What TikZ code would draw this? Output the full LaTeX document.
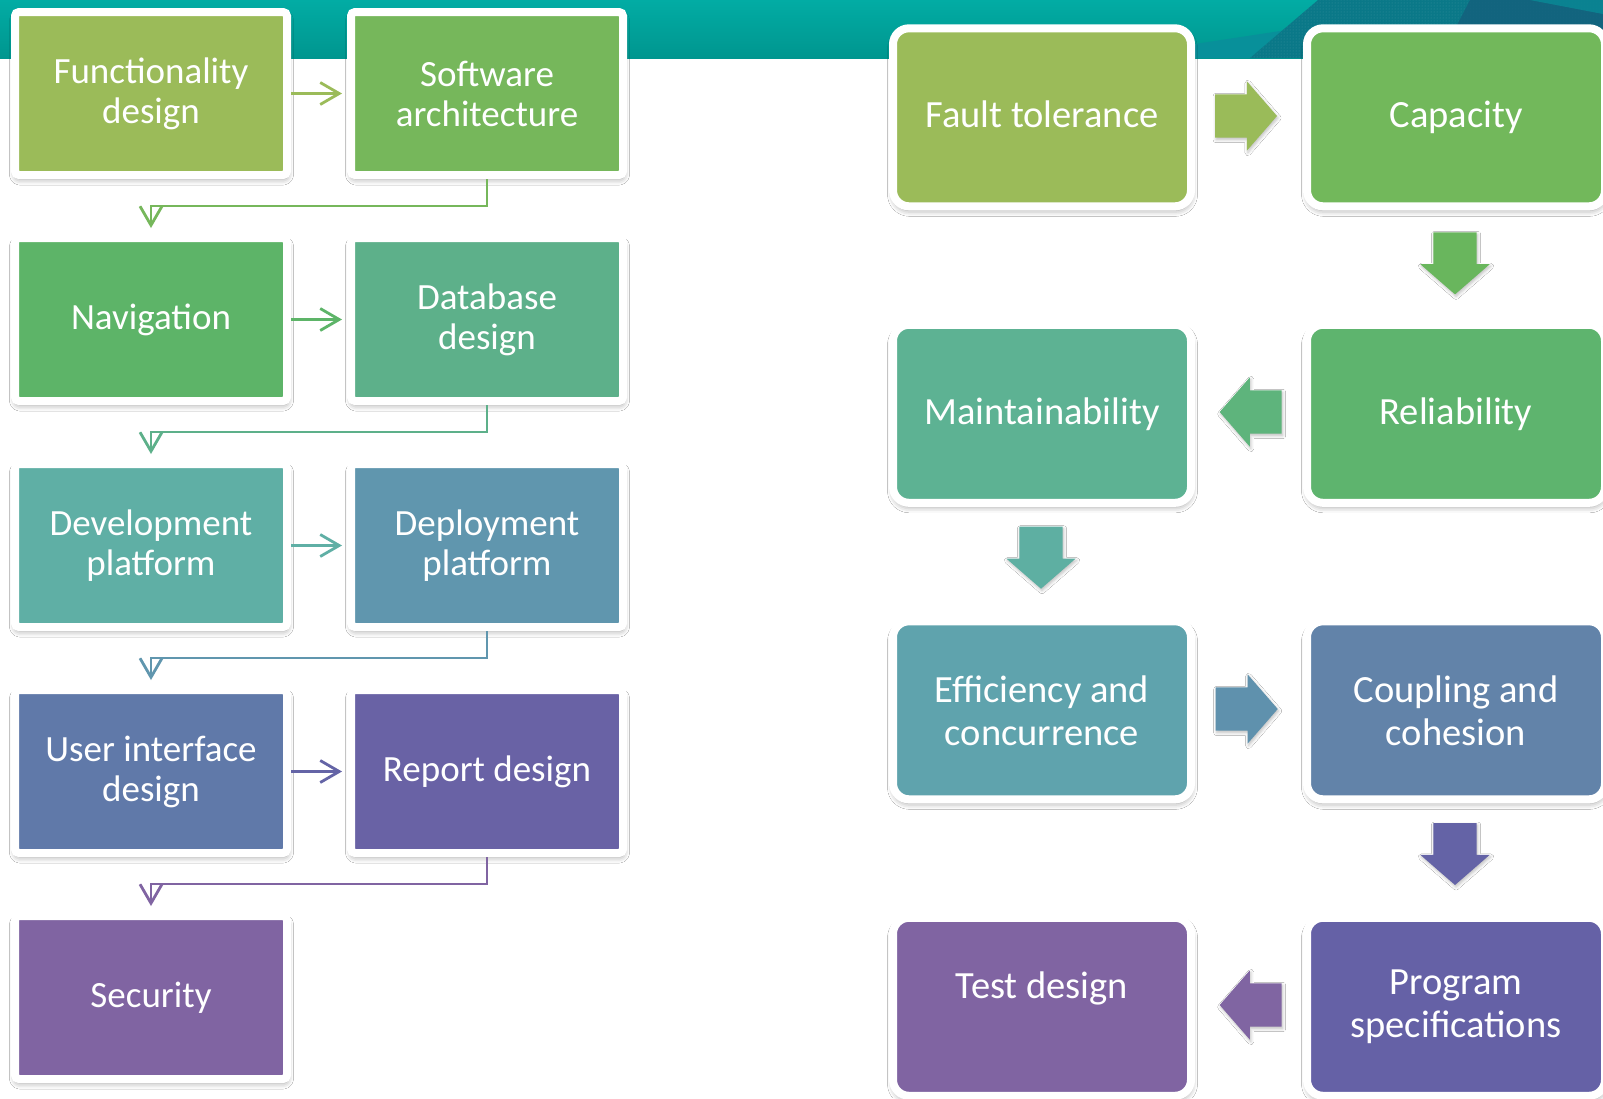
\documentclass[tikz,border=0pt]{standalone}
\usepackage{fontspec}
\setmainfont{Carlito}
\usetikzlibrary{arrows.meta,shapes.arrows,shadows.blur,calc,patterns}
\definecolor{cFunc}{HTML}{9BBB59}
\definecolor{cSA}{HTML}{76B75B}
\definecolor{cNav}{HTML}{5DB468}
\definecolor{cDB}{HTML}{5DB08A}
\definecolor{cDev}{HTML}{5FAFA5}
\definecolor{cDep}{HTML}{6096AE}
\definecolor{cUI}{HTML}{6079A9}
\definecolor{cRep}{HTML}{6962A5}
\definecolor{cSec}{HTML}{8064A2}
\definecolor{cFT}{HTML}{9BBB59}
\definecolor{cCap}{HTML}{72B85B}
\definecolor{cRel}{HTML}{5EB46E}
\definecolor{cMain}{HTML}{5DB293}
\definecolor{cEff}{HTML}{5FA3AD}
\definecolor{cCoup}{HTML}{6283A9}
\definecolor{cProg}{HTML}{6561A6}
\definecolor{cTest}{HTML}{8064A2}
\definecolor{aA}{HTML}{9ABB59}
\definecolor{aB}{HTML}{69B65D}
\definecolor{aC}{HTML}{5EB47C}
\definecolor{aD}{HTML}{5EAFA2}
\definecolor{aE}{HTML}{5F91AD}
\definecolor{aF}{HTML}{6463A6}
\definecolor{aG}{HTML}{8065A2}
\definecolor{hRow}{HTML}{6464A6}
\definecolor{bTop}{HTML}{02ACA4}
\definecolor{bBot}{HTML}{00968F}
\definecolor{bMid}{HTML}{08909A}
\definecolor{bDark}{HTML}{0A7888}
\definecolor{bDeep}{HTML}{145F7C}
\tikzset{
  lbox/.style={draw=white, line width=8pt, rounded corners=4pt,
    minimum width=272pt, minimum height=163pt, inner sep=0pt,
    text=white, align=center, font=\fontsize{37}{40}\selectfont,
    blur shadow={shadow xshift=0.5pt, shadow yshift=-4pt,
      shadow blur radius=6pt, shadow opacity=40}},
  rbox/.style={lbox, rounded corners=16pt, minimum width=298pt,
    minimum height=178pt, font=\fontsize{38.5}{43}\selectfont},
  conn/.style={line width=2.8pt,
    -{Straight Barb[length=19pt,width=22pt,line width=2.8pt]}},
  barrow/.style={single arrow, draw=none, minimum height=62pt,
    single arrow head extend=13pt, anchor=tip,
    single arrow tip angle=98, inner xsep=0pt, inner ysep=21.5pt,
    outer sep=0pt,
    blur shadow={shadow xshift=1pt, shadow yshift=-2pt,
      shadow blur radius=3pt, shadow opacity=25}},
}
\begin{document}
\begin{tikzpicture}[x=1pt,y=-1pt]
\useasboundingbox (0,0) rectangle (1603,1098);
\clip (0,0) rectangle (1603,1098);
\fill[white] (0,0) rectangle (1603,1098);
% banner
\fill[top color=bTop, bottom color=bBot] (0,0) rectangle (1603,58);
\fill[bMid] (1190,58) -- (1195,44) -- (1300,28) -- (1460,0) -- (1603,0) -- (1603,58) -- cycle;
\fill[bDark] (1250,58) -- (1318,0) -- (1603,0) -- (1603,58) -- cycle;
\fill[pattern=dots, pattern color=white, opacity=0.18] (1250,58) -- (1318,0) -- (1603,0) -- (1603,58) -- cycle;
\fill[bDeep, opacity=0.8] (1440,58) -- (1470,0) -- (1603,0) -- (1603,58) -- cycle;
\fill[bMid, opacity=0.7] (1530,0) -- (1603,0) -- (1603,14) -- cycle;

% left column
\node[lbox, fill=cFunc] (fd)  at (151,93.5)  {Functionality\\design};
\node[lbox, fill=cSA]   (sa)  at (487,93.5)  {Software\\architecture};
\node[lbox, fill=cNav]  (nav) at (151,319.5) {Navigation};
\node[lbox, fill=cDB]   (db)  at (487,319.5) {Database\\design};
\node[lbox, fill=cDev]  (dev) at (151,545.5) {Development\\platform};
\node[lbox, fill=cDep]  (dep) at (487,545.5) {Deployment\\platform};
\node[lbox, fill=cUI]   (ui)  at (151,771.5) {User interface\\design};
\node[lbox, fill=cRep]  (rep) at (487,771.5) {Report design};
\node[lbox, fill=cSec]  (sec) at (151,997.5) {Security};

\draw[conn, cFunc, shorten >=5pt] (fd) -- (sa);
\draw[conn, cNav,  shorten >=5pt] (nav) -- (db);
\draw[conn, cDev,  shorten >=5pt] (dev) -- (dep);
\draw[conn, hRow,  shorten >=5pt] (ui) -- (rep);
\draw[conn, cSA,  shorten >=6pt] (sa.south)  -- ++(0,27) -| (nav.north);
\draw[conn, cDB,  shorten >=6pt] (db.south)  -- ++(0,27) -| (dev.north);
\draw[conn, cDep, shorten >=6pt] (dep.south) -- ++(0,27) -| (ui.north);
\draw[conn, cSec, shorten >=6pt] (rep.south) -- ++(0,27) -| (sec.north);

% right column
\node[rbox, fill=cFT]   (ft)  at (1042,117.3)  {Fault tolerance\vphantom{y}};
\node[rbox, fill=cCap]  (cap) at (1456,117.3)  {Capacity};
\node[rbox, fill=cMain] (mai) at (1042,413.8)  {Maintainability};
\node[rbox, fill=cRel]  (rel) at (1456,413.8)  {Reliability};
\node[rbox, fill=cEff]  (eff) at (1042,710.3)  {Efficiency and\\concurrence};
\node[rbox, fill=cCoup] (cou) at (1456,710.3)  {Coupling and\\cohesion};
\node[rbox, fill=cTest] (tes) at (1042,1006.8) {Test design\\\mbox{}};
\node[rbox, fill=cProg] (pro) at (1456,1006.8) {Program\\specifications};

\node[barrow, fill=aA] (a1) at ($(cap.west)+(-26,-1.3)$) {};
\node[barrow, fill=aB, rotate=-90] (a2) at ($(rel.north)+(-1,-26.4)$) {};
\node[barrow, fill=aC, rotate=180] (a3) at ($(mai.east)+(24.7,-1.8)$) {};
\node[barrow, fill=aD, rotate=-90] (a4) at ($(eff.north)+(-1,-28.6)$) {};
\node[barrow, fill=aE] (a5) at ($(cou.west)+(-25.3,-1.3)$) {};
\node[barrow, fill=aF, rotate=-90] (a6) at ($(pro.north)+(-1,-28.8)$) {};
\node[barrow, fill=aG, rotate=180] (a7) at ($(tes.east)+(24.7,-1.8)$) {};
\end{tikzpicture}
\end{document}
